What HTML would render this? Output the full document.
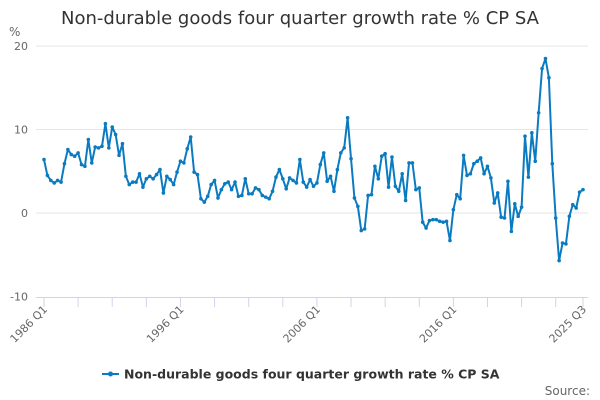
<!DOCTYPE html>
<html><head><meta charset="utf-8"><style>
body{margin:0;background:#fff;font-family:"DejaVu Sans","Liberation Sans",sans-serif;}
</style></head><body>
<svg id="chart" width="600" height="400" style="display:block;font-family:'DejaVu Sans','Liberation Sans',sans-serif">
<text x="300" y="24" text-anchor="middle" font-size="18" fill="#333">Non-durable goods four quarter growth rate % CP SA</text>
<text x="9" y="36" font-size="12" fill="#666">%</text>
<g id="grid"></g><g id="xaxis"></g>
<polyline id="line" fill="none" stroke="#0b7bc1" stroke-width="2" stroke-linejoin="round"/>
<g id="pts"></g>
<g>
<line x1="102" y1="374" x2="119" y2="374" stroke="#0b7bc1" stroke-width="2"/>
<circle cx="110.5" cy="374" r="2.5" fill="#0b7bc1"/>
<text x="124" y="378.5" font-size="12.5" font-weight="bold" fill="#333">Non-durable goods four quarter growth rate % CP SA</text>
</g>
<text x="590" y="395" text-anchor="end" font-size="12" fill="#666">Source:</text>
</svg>
<script>
const yTicks=[20,10,0,-10];
const xLabels=["1986 Q1","1996 Q1","2006 Q1","2016 Q1","2025 Q3"];
const xLabelIdx=[0,40,80,120,158];
const values=[6.4,4.5,3.9,3.6, 3.9,3.7,5.9,7.6, 7.0,6.8,7.2,5.8, 5.6,8.8,6.0,7.9,
7.8,8.0,10.7,7.8, 10.3,9.4,6.9,8.3, 4.4,3.4,3.7,3.7, 4.7,3.1,4.1,4.4, 4.1,4.6,5.2,2.4, 4.4,4.0,3.4,4.9,
6.2,6.0,7.7,9.1, 4.9,4.6,1.7,1.3, 2.0,3.4,3.9,1.8, 2.8,3.5,3.7,2.8, 3.7,2.0,2.1,4.1, 2.3,2.3,3.0,2.8,
2.1,1.9,1.7,2.6, 4.3,5.2,4.1,2.9, 4.2,3.9,3.6,6.4, 3.7,3.1,4.0,3.2,
3.6,5.8,7.2,3.8, 4.4,2.6,5.2,7.2, 7.8,11.4,6.5,1.8, 0.8,-2.1,-1.9,2.1, 2.2,5.6,4.1,6.8,
7.1,3.1,6.7,3.2, 2.6,4.7,1.5,6.0, 6.0,2.8,3.0,-1.1, -1.8,-0.9,-0.8,-0.8, -1.0,-1.1,-1.0,-3.3,
0.4,2.2,1.7,6.9, 4.5,4.7,5.9,6.2, 6.6,4.7,5.6,4.2, 1.2,2.4,-0.5,-0.6, 3.8,-2.2,1.1,-0.4,
0.7,9.2,4.3,9.6, 6.2,12.0,17.3,18.5, 16.2,5.9,-0.6,-5.7, -3.6,-3.7,-0.4,1.0, 0.6,2.5,2.8];
const NS="http://www.w3.org/2000/svg";
const X0=44,X1=583,N=values.length;
const xs=i=>X0+(X1-X0)*i/(N-1);
const ys=v=>213-v*8.35;
function mk(t,a,parent){const e=document.createElementNS(NS,t);for(const k in a)e.setAttribute(k,a[k]);parent.appendChild(e);return e;}
const grid=document.getElementById('grid');
yTicks.forEach(v=>{
 if(v!==-10){const g=mk('line',{x1:36,x2:588,y1:ys(v),y2:ys(v),stroke:'#e6e6e6','stroke-width':1},grid);
 
 }
 const t=mk('text',{x:28,y:ys(v)+4,'text-anchor':'end','font-size':11,fill:'#666'},grid);
 t.textContent=v;
 
 
});
const xa=document.getElementById('xaxis');
const ax=mk('line',{x1:36,x2:588,y1:297.5,y2:297.5,stroke:'#ccd6eb','stroke-width':1},xa);


for(let i=0;i<N;i+=10){const tk=mk('line',{x1:xs(i),x2:xs(i),y1:297,y2:307,stroke:'#ccd6eb'},xa);
 
 }
const lt=mk('line',{x1:xs(N-1),x2:xs(N-1),y1:297,y2:307,stroke:'#ccd6eb'},xa);


xLabels.forEach((l,k)=>{const x=xs(xLabelIdx[k]);
 const t=mk('text',{x:x+4,y:310,'text-anchor':'end','font-size':11,fill:'#666',transform:`rotate(-45 ${x+4} 310)`},xa);
 t.textContent=l;
 
 
});
document.getElementById('line').setAttribute('points',values.map((v,i)=>xs(i)+','+ys(v)).join(' '));
const pts=document.getElementById('pts');
values.forEach((v,i)=>{const c=mk('circle',{cx:xs(i),cy:ys(v),r:1.8,fill:'#0b7bc1'},pts);
 
 });
</script>
</body></html>
